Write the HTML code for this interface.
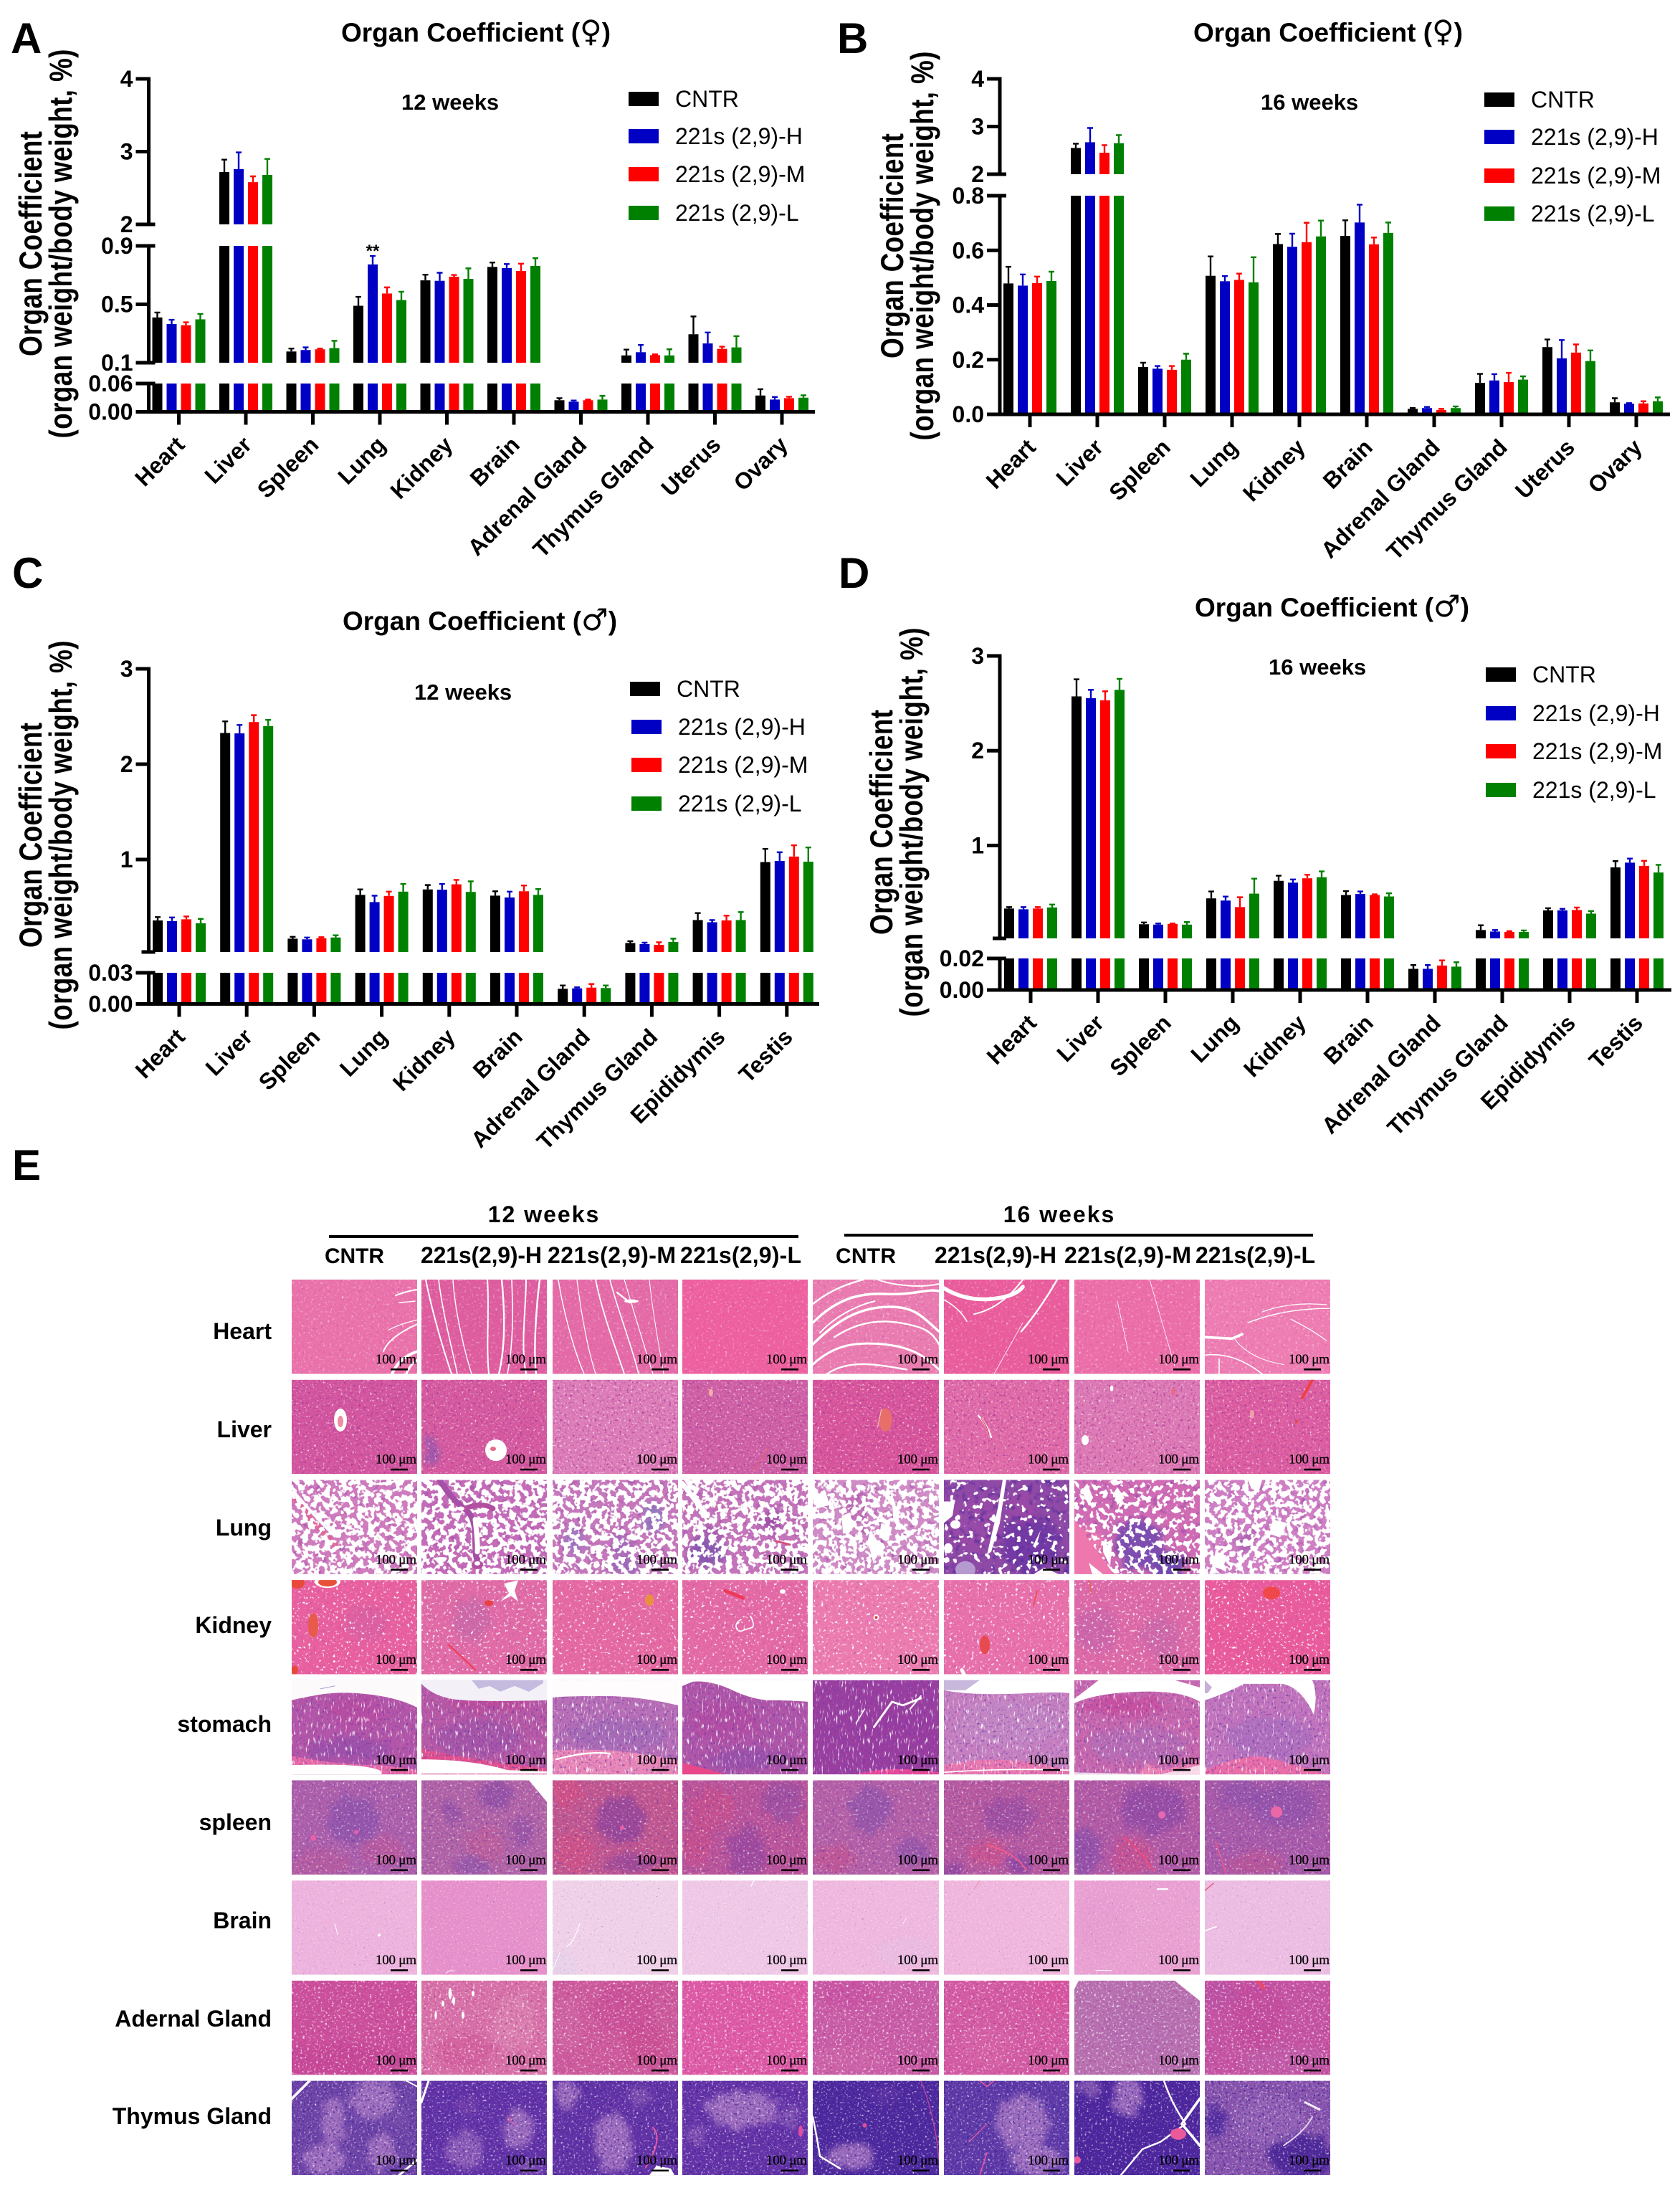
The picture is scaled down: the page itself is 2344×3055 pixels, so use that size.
<!DOCTYPE html>
<html lang="en">
<head>
<meta charset="utf-8">
<title>Organ Coefficient</title>
<style>
html,body{margin:0;padding:0;background:#fff}
svg{display:block}
text{font-family:"Liberation Sans",Arial,sans-serif;fill:#000}
.b{font-weight:bold}
.sym{font-family:"DejaVu Sans",sans-serif;font-weight:normal;font-size:42px}
</style>
</head>
<body>
<svg id="fig" xmlns="http://www.w3.org/2000/svg" width="2344" height="3055" viewBox="0 0 2344 3055">
<defs id="defs"><filter id="soft" x="-60%" y="-60%" width="220%" height="220%" color-interpolation-filters="sRGB"><feTurbulence type="fractalNoise" baseFrequency="0.07" numOctaves="2" seed="5" result="n"/><feDisplacementMap in="SourceGraphic" in2="n" scale="24" xChannelSelector="R" yChannelSelector="G"/><feGaussianBlur stdDeviation="4"/></filter></defs>
<rect width="2344" height="3055" fill="#fff"/>

<text class="b" x="15" y="74" font-size="60">A</text>
<text class="b" x="1168" y="74" font-size="60">B</text>
<text class="b" x="17" y="820" font-size="60">C</text>
<text class="b" x="1170" y="820" font-size="60">D</text>
<text class="b" x="17" y="1646" font-size="60">E</text>

<text class="b" x="476" y="58" font-size="37">Organ Coefficient (<tspan class="sym">♀</tspan>)</text>
<text class="b" x="1665" y="58" font-size="37">Organ Coefficient (<tspan class="sym">♀</tspan>)</text>
<text class="b" x="478" y="879" font-size="37">Organ Coefficient (<tspan class="sym">♂</tspan>)</text>
<text class="b" x="1667" y="860" font-size="37">Organ Coefficient (<tspan class="sym">♂</tspan>)</text>

<text class="b" x="560" y="153" font-size="31">12 weeks</text>
<text class="b" x="1759" y="153" font-size="31">16 weeks</text>
<text class="b" x="578" y="976" font-size="31">12 weeks</text>
<text class="b" x="1770" y="941" font-size="31">16 weeks</text>

<g text-anchor="middle">
<text class="b" transform="translate(58,340) scale(1.2,1) rotate(-90)" font-size="37" textLength="314">Organ Coefficient</text>
<text class="b" transform="translate(100,340) scale(1.2,1) rotate(-90)" font-size="37" textLength="543">(organ weight/body weight, %)</text>
</g>
<g text-anchor="middle">
<text class="b" transform="translate(1260,343) scale(1.2,1) rotate(-90)" font-size="37" textLength="314">Organ Coefficient</text>
<text class="b" transform="translate(1302,343) scale(1.2,1) rotate(-90)" font-size="37" textLength="543">(organ weight/body weight, %)</text>
</g>
<g text-anchor="middle">
<text class="b" transform="translate(58,1165) scale(1.2,1) rotate(-90)" font-size="37" textLength="314">Organ Coefficient</text>
<text class="b" transform="translate(100,1165) scale(1.2,1) rotate(-90)" font-size="37" textLength="543">(organ weight/body weight, %)</text>
</g>
<g text-anchor="middle">
<text class="b" transform="translate(1245,1147) scale(1.2,1) rotate(-90)" font-size="37" textLength="314">Organ Coefficient</text>
<text class="b" transform="translate(1287,1147) scale(1.2,1) rotate(-90)" font-size="37" textLength="543">(organ weight/body weight, %)</text>
</g>

<text class="b" x="520" y="358" font-size="24" text-anchor="middle">**</text>

<g id="chart-a"></g>
<g id="chart-b"></g>
<g id="chart-c"></g>
<g id="chart-d"></g>

<g>
<text class="b" x="759" y="1705" font-size="32" letter-spacing="2" text-anchor="middle">12 weeks</text>
<rect x="459" y="1723" width="655" height="4"/>
<text class="b" x="1478" y="1705" font-size="32" letter-spacing="2" text-anchor="middle">16 weeks</text>
<rect x="1178" y="1721" width="654" height="4"/>
<text class="b" x="453" y="1762" font-size="30" textLength="83">CNTR</text>
<text class="b" x="587" y="1762" font-size="32" textLength="169">221s(2,9)-H</text>
<text class="b" x="764" y="1762" font-size="32" textLength="179">221s(2,9)-M</text>
<text class="b" x="949" y="1762" font-size="32" textLength="169">221s(2,9)-L</text>
<text class="b" x="1166" y="1762" font-size="30" textLength="84">CNTR</text>
<text class="b" x="1304" y="1762" font-size="32" textLength="170">221s(2,9)-H</text>
<text class="b" x="1485" y="1762" font-size="32" textLength="177">221s(2,9)-M</text>
<text class="b" x="1668" y="1762" font-size="32" textLength="167">221s(2,9)-L</text>
</g>
<g text-anchor="end">
<text class="b" x="379" y="1868" font-size="32">Heart</text>
<text class="b" x="379" y="2005" font-size="32">Liver</text>
<text class="b" x="379" y="2142" font-size="32">Lung</text>
<text class="b" x="379" y="2278" font-size="32">Kidney</text>
<text class="b" x="379" y="2416" font-size="32">stomach</text>
<text class="b" x="379" y="2553" font-size="32">spleen</text>
<text class="b" x="379" y="2690" font-size="32">Brain</text>
<text class="b" x="379" y="2827" font-size="32">Adernal Gland</text>
<text class="b" x="379" y="2963" font-size="32">Thymus Gland</text>
</g>
<g id="tiles"></g>
</svg>

<script>
/* ---------- chart data ---------- */
const seriesNames = ['CNTR', '221s (2,9)-H', '221s (2,9)-M', '221s (2,9)-L'];
const seriesColors = ['#000000', '#0000c4', '#ff0000', '#008000'];
const organsFemale = ['Heart', 'Liver', 'Spleen', 'Lung', 'Kidney', 'Brain', 'Adrenal Gland', 'Thymus Gland', 'Uterus', 'Ovary'];
const organsMale = ['Heart', 'Liver', 'Spleen', 'Lung', 'Kidney', 'Brain', 'Adrenal Gland', 'Thymus Gland', 'Epididymis', 'Testis'];

const aTickValues = [0, 0.06, 0.1, 0.5, 0.9, 2, 3, 4];
const aTickLabels = ['0.00', '0.06', '0.1', '0.5', '0.9', '2', '3', '4'];
const bTickValues = [0, 0.2, 0.4, 0.6, 0.8, 2, 3, 4];
const bTickLabels = ['0.0', '0.2', '0.4', '0.6', '0.8', '2', '3', '4'];
const cTickValues = [0, 0.03, 1, 2, 3];
const cTickLabels = ['0.00', '0.03', '1', '2', '3'];
const dTickValues = [0, 0.02, 1, 2, 3];
const dTickLabels = ['0.00', '0.02', '1', '2', '3'];

const aCntr = [0.41, 2.72, 0.177, 0.49, 0.664, 0.756, 0.0246, 0.15, 0.295, 0.0346];
const aCntrErr = [0.034, 0.17, 0.02, 0.061, 0.039, 0.03, 0.0044, 0.04, 0.122, 0.0134];
const aHigh = [0.365, 2.76, 0.187, 0.773, 0.661, 0.748, 0.0215, 0.172, 0.232, 0.026];
const aHighErr = [0.029, 0.23, 0.018, 0.058, 0.055, 0.028, 0.0025, 0.05, 0.075, 0.0055];
const aMid = [0.357, 2.58, 0.192, 0.574, 0.689, 0.728, 0.0246, 0.152, 0.195, 0.029];
const aMidErr = [0.02, 0.08, 0.005, 0.042, 0.012, 0.05, 0.0014, 0.005, 0.015, 0.003];
const aLow = [0.397, 2.68, 0.2, 0.529, 0.674, 0.763, 0.026, 0.15, 0.205, 0.03];
const aLowErr = [0.037, 0.22, 0.05, 0.057, 0.072, 0.053, 0.008, 0.042, 0.077, 0.005];

const bCntr = [0.479, 2.55, 0.173, 0.507, 0.623, 0.653, 0.02, 0.115, 0.246, 0.044];
const bCntrErr = [0.061, 0.09, 0.016, 0.071, 0.037, 0.057, 0.003, 0.033, 0.028, 0.015];
const bHigh = [0.471, 2.67, 0.167, 0.487, 0.613, 0.702, 0.023, 0.124, 0.205, 0.039];
const bHighErr = [0.041, 0.3, 0.01, 0.019, 0.048, 0.065, 0.004, 0.023, 0.067, 0.002];
const bMid = [0.48, 2.45, 0.163, 0.492, 0.63, 0.622, 0.016, 0.118, 0.226, 0.04];
const bMidErr = [0.024, 0.16, 0.014, 0.023, 0.071, 0.025, 0.004, 0.034, 0.03, 0.008];
const bLow = [0.488, 2.65, 0.2, 0.483, 0.651, 0.664, 0.023, 0.127, 0.195, 0.048];
const bLowErr = [0.034, 0.17, 0.022, 0.092, 0.058, 0.038, 0.006, 0.012, 0.039, 0.014];

const cCntr = [0.361, 2.327, 0.17, 0.629, 0.686, 0.621, 0.0146, 0.124, 0.365, 0.973];
const cCntrErr = [0.035, 0.122, 0.019, 0.057, 0.046, 0.046, 0.0032, 0.019, 0.073, 0.138];
const cHigh = [0.354, 2.323, 0.163, 0.553, 0.683, 0.602, 0.015, 0.113, 0.342, 0.985];
const cHighErr = [0.038, 0.088, 0.019, 0.068, 0.061, 0.061, 0.001, 0.015, 0.023, 0.091];
const cMid = [0.373, 2.442, 0.174, 0.618, 0.74, 0.667, 0.0157, 0.105, 0.361, 1.031];
const cMidErr = [0.03, 0.072, 0.011, 0.045, 0.046, 0.061, 0.0035, 0.027, 0.05, 0.118];
const cLow = [0.331, 2.4, 0.182, 0.663, 0.66, 0.629, 0.0153, 0.136, 0.365, 0.977];
const cLowErr = [0.046, 0.065, 0.023, 0.081, 0.111, 0.061, 0.0025, 0.034, 0.084, 0.149];

const dCntr = [0.335, 2.573, 0.169, 0.442, 0.627, 0.477, 0.0134, 0.108, 0.315, 0.769];
const dCntrErr = [0.015, 0.181, 0.019, 0.073, 0.054, 0.042, 0.0024, 0.05, 0.023, 0.066];
const dHigh = [0.327, 2.554, 0.165, 0.419, 0.608, 0.488, 0.0134, 0.092, 0.315, 0.819];
const dHighErr = [0.023, 0.088, 0.012, 0.042, 0.034, 0.027, 0.0024, 0.016, 0.016, 0.043];
const dMid = [0.335, 2.531, 0.173, 0.35, 0.654, 0.477, 0.0155, 0.088, 0.319, 0.785];
const dMidErr = [0.015, 0.096, 0.004, 0.104, 0.038, 0.008, 0.0033, 0.008, 0.027, 0.053];
const dLow = [0.346, 2.642, 0.165, 0.492, 0.665, 0.462, 0.0148, 0.088, 0.281, 0.715];
const dLowErr = [0.031, 0.116, 0.027, 0.158, 0.062, 0.034, 0.0028, 0.016, 0.027, 0.081];

const NS = 'http://www.w3.org/2000/svg';
function mk(parent, tag, attrs) {
  const el = document.createElementNS(NS, tag);
  for (const k in attrs) el.setAttribute(k, attrs[k]);
  parent.appendChild(el);
  return el;
}

/* axis functions: broken axis made of linear segments */
function segY(seg, v) {
  return seg.y0 + (v - seg.lo) / (seg.hi - seg.lo) * (seg.y1 - seg.y0);
}
function makeY(segments) {
  return function (v) {
    for (let i = 0; i < segments.length; i++) {
      const s = segments[i];
      if (v <= s.hi) return segY(s, Math.max(v, s.lo));
    }
    return segY(segments[segments.length - 1], v);
  };
}

function drawChart(cfg) {
  const root = document.getElementById(cfg.id);
  const y = makeY(cfg.segments);
  const baseY = cfg.segments[0].y0;
  const xc = function (i) { return cfg.firstX + i * cfg.stepX; };
  const offsets = [-1.5, -0.5, 0.5, 1.5];

  cfg.series.forEach(function (vals, s) {
    const g = mk(root, 'g', {});
    
    
    vals.forEach(function (v, i) {
      const cx = xc(i) + offsets[s] * 20;
      cfg.segments.forEach(function (seg) {
        if (v > seg.lo) {
          const top = segY(seg, Math.min(v, seg.hi));
          const r = mk(g, 'rect', { x: cx - 7, y: top, width: 14, height: seg.y0 - top, fill: seriesColors[s] });
          
          
        }
      });
      const e = cfg.errors[s][i];
      const ey = y(v + e);
      const eb = mk(g, 'path', { d: 'M' + cx + ' ' + y(v) + 'V' + ey + 'M' + (cx - 4) + ' ' + ey + 'H' + (cx + 4), stroke: seriesColors[s], 'stroke-width': 2.4, fill: 'none' });
      
      
    });
  });

  /* y axis segments, break marks */
  const axis = mk(root, 'g', {});
  
  
  cfg.segments.forEach(function (seg, n) {
    mk(axis, 'rect', { x: cfg.axisX - 2.5, y: seg.y1 - 2.5, width: 5, height: seg.y0 - seg.y1 + 5, fill: '#000' });
    if (n > 0) mk(axis, 'rect', { x: cfg.axisX - 10, y: seg.y0 - 2.5, width: 19, height: 5, fill: '#000' });
    if (n < cfg.segments.length - 1) mk(axis, 'rect', { x: cfg.axisX - 10, y: seg.y1 - 2.5, width: 19, height: 5, fill: '#000' });
  });
  cfg.tickValues.forEach(function (v, i) {
    const ty = y(v);
    mk(axis, 'rect', { x: cfg.axisX - 18, y: ty - 2.5, width: 18, height: 5, fill: '#000' });
    const t = mk(axis, 'text', { x: cfg.axisX - 22, y: ty + 11, 'font-size': 32, 'font-weight': 'bold', 'text-anchor': 'end' });
    
    
    t.textContent = cfg.tickLabels[i];
  });

  /* x axis */
  const xa = mk(root, 'g', {});
  
  
  mk(xa, 'rect', { x: cfg.axisX - 18, y: baseY - 2.5, width: cfg.axisEnd - cfg.axisX + 18, height: 5, fill: '#000' });
  cfg.organs.forEach(function (name, i) {
    mk(xa, 'rect', { x: xc(i) - 2.5, y: baseY, width: 5, height: 18, fill: '#000' });
    const t = mk(xa, 'text', { transform: 'translate(' + (xc(i) + 10) + ',' + (baseY + 48) + ') rotate(-45)', 'font-size': 32, 'font-weight': 'bold', 'text-anchor': 'end' });
    
    
    t.textContent = name;
  });

  /* legend */
  const lg = mk(root, 'g', {});
  
  
  seriesNames.forEach(function (name, s) {
    const ly = cfg.legendY[s];
    const sw = mk(lg, 'rect', { x: cfg.legendX[s], y: ly - 10, width: 42, height: 20, fill: seriesColors[s] });
    
    
    const t = mk(lg, 'text', { x: cfg.legendX[s] + 65, y: ly + 11, 'font-size': 32 });
    
    
    t.textContent = name;
  });
}

drawChart({ id: 'chart-a', organs: organsFemale, firstX: 249.5, stepX: 93.5, axisX: 207.5, axisEnd: 1137,
  segments: [{ lo: 0, hi: 0.06, y0: 574.5, y1: 535 }, { lo: 0.1, hi: 0.9, y0: 506, y1: 343 }, { lo: 2, hi: 4, y0: 313, y1: 110 }],
  tickValues: aTickValues, tickLabels: aTickLabels,
  series: [aCntr, aHigh, aMid, aLow], errors: [aCntrErr, aHighErr, aMidErr, aLowErr],
  legendX: [877, 877, 877, 877], legendY: [138, 190, 243, 297] });
drawChart({ id: 'chart-b', organs: organsFemale, firstX: 1437, stepX: 94, axisX: 1395, axisEnd: 2330,
  segments: [{ lo: 0, hi: 0.8, y0: 578, y1: 273 }, { lo: 2, hi: 4, y0: 243, y1: 110 }],
  tickValues: bTickValues, tickLabels: bTickLabels,
  series: [bCntr, bHigh, bMid, bLow], errors: [bCntrErr, bHighErr, bMidErr, bLowErr],
  legendX: [2071, 2071, 2071, 2071], legendY: [139, 191, 245, 298] });
drawChart({ id: 'chart-c', organs: organsMale, firstX: 250, stepX: 94.2, axisX: 207.5, axisEnd: 1143,
  segments: [{ lo: 0, hi: 0.03, y0: 1400.5, y1: 1357 }, { lo: 0.03, hi: 3, y0: 1328, y1: 933 }],
  tickValues: cTickValues, tickLabels: cTickLabels,
  series: [cCntr, cHigh, cMid, cLow], errors: [cCntrErr, cHighErr, cMidErr, cLowErr],
  legendX: [879, 881, 881, 881], legendY: [961, 1014, 1067, 1121] });
drawChart({ id: 'chart-d', organs: organsMale, firstX: 1438, stepX: 94, axisX: 1395, axisEnd: 2332,
  segments: [{ lo: 0, hi: 0.02, y0: 1381, y1: 1337 }, { lo: 0.02, hi: 3, y0: 1309, y1: 915 }],
  tickValues: dTickValues, tickLabels: dTickLabels,
  series: [dCntr, dHigh, dMid, dLow], errors: [dCntrErr, dHighErr, dMidErr, dLowErr],
  legendX: [2073, 2073, 2073, 2073], legendY: [941, 995, 1048, 1102] });

/* ---------- histology tiles ---------- */
let K = 1;
function E(x, y, rx, ry, c, o) { return '<ellipse cx="' + x + '" cy="' + y + '" rx="' + rx + '" ry="' + ry + '" fill="' + c + '" opacity="' + ((o || 1) * K) + '" filter="url(#soft)"/>'; }
function S(x, y, rx, ry, c) { return '<ellipse cx="' + x + '" cy="' + y + '" rx="' + rx + '" ry="' + ry + '" fill="' + c + '"/>'; }
function L(d, w, c) { return '<path d="' + d + '" fill="none" stroke="' + (c || '#fff') + '" stroke-width="' + (w || 1.6) + '" stroke-linecap="round"/>'; }
function P(d, c, o) { return '<path d="' + d + '" fill="' + (c || '#fff') + '" opacity="' + (o || 1) + '"/>'; }

const colX = [[407, 175], [588, 175], [771, 175], [952, 175], [1134, 176], [1317, 175], [1499, 175], [1681, 175]];
const colNames = ['12w-cntr', '12w-high', '12w-mid', '12w-low', '16w-cntr', '16w-high', '16w-mid', '16w-low'];
const rowNames = ['heart', 'liver', 'lung', 'kidney', 'stomach', 'spleen', 'brain', 'adrenal-gland', 'thymus-gland'];

const texKinds = {
  heart: { f: 0.3, fd: 0.27, k: 2, off: -1.22, dk: 1.6, doff: -1.0, dc: '#b0408c' },
  liver: { f: 0.32, fd: 0.29, k: 3.4, off: -2.1, dk: 3.2, doff: -1.8, dc: '#a83a98' },
  lung: { f: 0.13, fd: 0.12, k: 18, off: -8.4, dk: 2, doff: -1.1, dc: '#9a4aa6' },
  lungD: { f: 0.12, fd: 0.12, k: 18, off: -11, dk: 3, doff: -1.6, dc: '#5a2f9c' },
  lungM: { f: 0.13, fd: 0.12, k: 18, off: -9.6, dk: 2, doff: -1.1, dc: '#8a3fa6' },
  kidney: { f: 0.26, fd: 0.23, k: 6, off: -3.75, dk: 2, doff: -1.2, dc: '#b84a9c' },
  stomach: { f: '0.4 0.1', fd: 0.3, k: 5, off: -3.1, dk: 3, doff: -1.7, dc: '#6a3aa8' },
  spleen: { f: 0.32, fd: 0.29, k: 2.8, off: -1.7, dk: 2.6, doff: -1.5, dc: '#6a3aa8' },
  brain: { f: 0.42, fd: 0.38, k: 1.8, off: -1.05, dk: 3.6, doff: -2.5, dc: '#8a6ab8' },
  adrenal: { f: 0.32, fd: 0.29, k: 3.4, off: -2, dk: 2.6, doff: -1.5, dc: '#a83a8c' },
  thymus: { f: 0.34, fd: 0.31, k: 3, off: -1.8, dk: 3.2, doff: -1.75, dc: '#3f2390' }
};

const purple = '#6230a4', lightT = '#a876c2', blue = '#6b45ae';

const tileSpecs = [
 /* heart */
 (K = 1, [
  ['#ea72ab', 'heart', '', L('M145 22Q160 16 175 14',2)+L('M150 32L172 30',1.5)+L('M135 70Q150 62 175 56',1.2)+L('M128 100Q135 80 175 62',2)+L('M140 131Q150 108 175 100',4)+L('M160 131Q165 118 175 112',3)],
  ['#de5d9f', 'heart', '', L('M6 0C14 40 28 90 42 131',2)+L('M24 0C30 50 44 100 50 131',1.6)+L('M44 0C46 40 60 100 70 131',1.4)+L('M92 0C95 40 90 90 94 131',2)+L('M112 0C116 40 118 90 108 131',2.4)+L('M126 0C128 50 128 90 120 131',1.6)+L('M146 0C146 40 138 90 146 131',2)+L('M165 0C160 40 156 100 160 131',2.4)],
  ['#e46ba7', 'heart', '', L('M8 0C14 40 30 100 44 131',1.4)+L('M34 0C40 50 50 100 60 131',1.2)+L('M60 0C70 50 90 100 100 131',1.8)+L('M80 0C90 40 110 90 120 131',1.6)+L('M100 0C112 40 130 100 140 131',1.2)+L('M135 0C140 50 150 100 155 131',1)+S(110,30,10,2.5,'#fff')+L('M90 18L108 32',2.4)],
  ['#ee609f', 'heart', '', ''],
  ['#e97bb0', 'heart', '', L('M0 60C30 30 60 18 100 20S160 12 175 16',3.4)+L('M0 34C20 18 40 8 70 0',2.4)+L('M0 90C30 60 60 40 100 38S150 50 175 72',3.4)+L('M30 80C60 60 90 55 120 60S165 70 175 90',2.4)+L('M0 118C30 90 60 86 100 90S160 110 175 125',3)+L('M20 131C50 110 90 118 130 125',2.4)+L('M90 0C110 8 150 12 175 6',2)+L('M10 74C30 52 60 36 86 30',2)],
  ['#ea5d9c', 'heart', '', L('M0 12Q30 30 65 27T110 10',5.5)+L('M42 48Q80 40 110 0',2)+L('M0 28Q22 40 32 58',1.6)+L('M108 72Q135 40 158 0',2.4)+L('M70 131L110 60',0.8)],
  ['#ec6ea9', 'heart', '', L('M105 0L140 120',0.8)+L('M60 30L75 100',0.8)],
  ['#ee7db3', 'heart', '', L('M0 80L38 82L52 76',3.6)+L('M60 60Q110 40 175 40',1.4)+L('M80 45Q120 30 170 35',1.2)+L('M0 105Q40 100 80 131',1.6)+L('M20 110V131',1.6)+L('M120 55Q150 70 170 85',1.2)+L('M40 80Q60 110 110 118',1)],
 ]),
 /* liver */
 (K = 1, [
  ['#d3569f', 'liver', '', S(68,56,9,16,'#fff')+S(68,58,4,8,'#ef8ca4')],
  ['#d65a9f', 'liver', E(14,100,8,20,'#8a5ab0',.7), S(104,98,15,15,'#fff')+S(100,96,4,3,'#e86a8a')],
  ['#dd7db8', 'liver', '', ''],
  ['#cf60a5', 'liver', '', S(40,18,3,5,'#f2b0a8')+L('M100 125L120 95',1.2,'#e8606a')],
  ['#d9559b', 'liver', '', S(101,56,9,16,'#e86e6a')+L('M95 42L90 66',1,'#f4d0c0')],
  ['#e06ba8', 'liver', '', L('M48 50Q60 62 66 80',2.4)+L('M52 54Q60 64 63 76',1.2,'#e0505a')],
  ['#dd7ab5', 'liver', '', S(15,84,5,7,'#fff')+S(52,12,2.4,4,'#fff')+S(138,16,3,5,'#e86a8a')],
  ['#dd5ea1', 'liver', '', L('M150 0L136 25',4,'#f0403e')+S(66,48,3,6,'#eea0a8')+S(128,58,2,3,'#e84a4a')],
 ]),
 /* lung */
 (K = 1, [
  ['#cf7cbe', 'lung', E(85,25,20,10,'#d080c0',.5)+L('M0 20Q30 60 60 90',8,'#e06a9a'), L('M4 18Q30 48 60 78',4)],
  ['#c46cb8', 'lung', '', L('M25 0Q45 30 60 40T75 80T78 110',8,'#a64fa6')+L('M60 40Q85 30 100 40',7,'#b0509f')+L('M75 55Q79 90 78 100',7)+S(55,40,5,3,'#fff')+S(78,118,8,6,'#b0509f')+S(78,116,4,3,'#fff')],
  ['#c678bc', 'lung', E(140,50,14,22,'#8f7ac0',.9)+E(30,85,14,20,'#9f78c4',.9)+E(100,120,24,14,'#9a68b8',.9)+E(95,90,14,14,'#9a68b8',.8), ''],
  ['#c474ba', 'lung', E(125,55,14,18,'#a050a8')+E(35,100,26,22,'#8a58b0')+E(40,75,14,14,'#a860b0'), L('M0 5L35 50',7)+L('M130 85L150 90',3,'#d0507f')],
  ['#d08cc6', 'lung', E(60,40,20,25,'#b860b0',.6), P('M40 50L52 45L55 70L42 75Z')+P('M95 60L110 66L105 85L92 80Z')+P('M80 70L96 95L84 115L76 85Z')+P('M0 20L18 18L24 35L5 40Z')+P('M110 30L122 45L112 60Z')],
  ['#8e4aa6', 'lungD', E(40,60,40,40,'#a04aa8',.5)+E(120,90,40,40,purple,.6)+E(110,40,20,25,'#a64aa6',.5), P('M75 40L82 0L87 0L78 60L66 100L60 104Z')+P('M0 30L15 30L12 50L0 60Z')+S(16,62,7,6,'#fff')+S(6,95,6,7,'#fff')+P('M130 80L135 70L128 95L124 92Z')+P('M125 105L120 125L115 118Z')+P('M125 131L140 122L160 131Z')+S(30,125,14,12,'#b59ad0')],
  ['#d06cb4', 'lungM', E(90,90,34,34,'#7d4db0')+E(130,120,26,20,'#6f4ab0')+E(15,115,30,50,'#ea7ab0'), P('M0 55L55 131L0 131Z','#ee77ae')+P('M18 5L26 25L20 35L10 15Z')+P('M60 10L70 25L60 35L55 18Z')+P('M40 85L52 95L50 120L40 100Z')+P('M20 115L40 131H25Z')],
  ['#cf80c4', 'lung', E(55,85,14,14,'#a860b0'), P('M60 0H80L75 18L65 12Z')+P('M95 55L115 60L105 80L90 75Z')+P('M15 100L30 105L25 125L10 120Z')],
 ]),
 /* kidney */
 (K = 0.7, [
  ['#e8609f', 'kidney', E(105,60,30,25,'#b864ac',.35), S(8,4,10,8,'#ea4a3a')+S(50,2,18,9,'#fff')+S(50,3,13,6,'#e8503a')+S(30,63,7,17,'#e85a4a')+S(4,125,5,6,'#e84a3a')],
  ['#e06ba6', 'kidney', E(70,55,26,30,'#a066b0',.4), P('M110 30L122 18L115 5L124 3L135 0L130 15L135 30L125 22Z')+S(94,32,6,4,'#e8403e')+L('M38 90Q60 110 75 125',2.4,'#f0405a')],
  ['#e569a3', 'kidney', '', S(135,28,6,8,'#e89040')],
  ['#e46aa6', 'kidney', '', L('M60 15L85 25',5,'#ee3a5a')+S(140,16,4,3,'#fff')+L('M82 55C70 60 75 75 85 70S105 70 95 50',1.6)],
  ['#ec7cb0', 'kidney', '', S(88,52,4,4,'#fff')+S(88,52,2,2,'#e83a3a')],
  ['#e870ab', 'kidney', '', S(57,90,7,13,'#e84a50')+L('M130 15L125 35',2,'#ee5050')+L('M25 125L28 131',5)],
  ['#dd6aa8', 'kidney', E(30,70,30,30,'#b060ac',.5)+E(120,80,26,30,'#a864ac',.4), L('M20 0L25 20',1.4,'#e86040')],
  ['#e95b9c', 'kidney', '', S(93,18,12,9,'#f0484a')],
 ]),
 /* stomach */
 (K = 0.55, [
  ['#b456a8', 'stomach', E(90,45,40,20,'#c0409a',.6)+E(80,95,60,16,blue,.5)+P('M0 105Q60 118 125 118L175 125V131H0Z','#e86aa8'), P('M0 0H175V38Q150 25 110 20T40 20T0 28Z','#fdfafc')+P('M0 118Q70 116 100 120T125 131H0Z','#fff')+L('M40 12L60 8',1,'#a9a0cc')],
  ['#b85aa6', 'stomach', E(95,30,60,12,'#c23a90',.8)+E(80,80,60,25,blue,.4)+P('M0 95Q60 110 175 122V131H0Z','#e0508f'), P('M0 0H175V28Q100 30 60 28T0 5Z','#f4f0f8')+P('M70 0L80 12L95 8L110 16L130 8L150 16L170 4V0Z','#b9aed8',.8)+P('M0 110Q70 110 120 125L175 127V130H0Z','#fff')],
  ['#b86fb6', 'stomach', E(90,75,70,22,'#8a68b8',.6)+P('M0 98Q90 92 175 112V131H0Z','#e987b8'), P('M0 0H175V35Q120 22 70 22T0 24Z','#fefcfd')+L('M5 110Q50 98 80 102',2.4)],
  ['#b056a8', 'stomach', E(60,60,50,26,'#b83a98',.5)+E(90,110,60,14,blue,.5), P('M0 0H175V30Q150 28 125 28T70 14T15 2L0 8Z','#fff')+P('M0 115Q30 122 60 131H0Z','#e8488a')],
  ['#9a3fa0', 'stomach', E(120,80,50,40,'#9a3aa0',.6)+P('M60 131Q100 118 175 128V131Z','#e8489a'), L('M60 60L72 40',1.6)+L('M85 65L110 30L125 35L150 25',2.8)+L('M135 40L150 22',2)],
  ['#c680c0', 'stomach', E(90,60,70,30,'#c09ad0',.5)+P('M0 118Q80 100 175 125V131H0Z','#ea78b0'), P('M0 14Q40 22 120 18T175 26V0H0Z','#fff')+P('M0 0H50L30 14H0Z','#c8b8dc')+L('M0 128Q90 122 175 125',1.6)],
  ['#c868ae', 'stomach', E(70,35,60,14,'#c8308c',.7)+E(90,90,70,24,'#9a78c0',.6)+P('M90 131L100 115L125 125L175 110V131Z','#eb80b4'), P('M0 32Q30 18 90 16T175 30V10L140 0H34L0 26Z','#fff')+P('M0 128L120 131L175 118V131H0Z','#fff',0.7)],
  ['#c274bc', 'stomach', E(90,80,60,30,'#8e6ac0',.6)+P('M0 125Q60 100 90 108T175 131H0Z','#ea6ea8'), P('M0 28Q30 18 55 5H108Q135 10 152 48Q158 20 150 0H0Z','#fff')+P('M0 0L10 10L4 18H0Z','#c8b0d8')],
 ]),
 /* spleen */
 (K = 0.65, [
  ['#ad5faa', 'spleen', E(85,55,36,34,blue,.55)+E(40,115,40,20,'#d8507f',.3)+E(130,100,30,20,'#d0508a',.5), S(30,80,4,4,'#e860a8')+S(90,72,3,3,'#e860a8')],
  ['#b263a6', 'spleen', E(105,20,22,22,purple,.5)+E(40,45,14,14,purple,.45)+E(90,90,26,26,'#cc5a90',.6)+E(140,70,14,22,purple,.4)+E(70,120,24,14,blue,.5), P('M150 0H175V30Z','#fff')],
  ['#c2568f', 'spleen', E(95,55,34,34,purple,.6)+E(20,15,22,22,'#e84a78',.6)+E(110,115,36,14,purple,.5)+E(30,100,26,26,'#e84a78',.5), S(97,66,3,3,'#e860a8')],
  ['#bb5499', 'spleen', E(90,100,26,36,purple,.45)+E(40,40,34,30,'#d64a80',.6)+E(140,30,30,28,blue,.45)+E(20,90,20,30,'#d64a80',.6), ''],
  ['#b560a6', 'spleen', E(80,40,30,34,blue,.55)+E(30,110,30,20,'#d04a80',.6)+E(140,100,26,20,blue,.5), ''],
  ['#b85a9f', 'spleen', E(90,50,36,26,purple,.4)+E(105,120,20,16,purple,.6)+E(15,125,16,10,purple,.6)+E(60,100,26,18,'#e04a7a',.6), L('M60 90Q100 100 115 125',2,'#ee5a88')],
  ['#b35aa4', 'spleen', E(110,40,46,34,purple,.5)+E(15,100,22,34,blue,.6)+E(80,105,28,25,'#e0487c',.6), S(122,48,5,5,'#e36ab0')+L('M70 80Q95 100 110 125',2.5,'#e84a80')],
  ['#a95aa8', 'spleen', E(110,35,46,30,blue,.4)+E(70,115,40,18,'#d8507f',.5)+E(50,20,30,20,blue,.4), S(100,44,8,8,'#ea68a6')+L('M15 85L30 131',1.6,'#ee5a88')],
 ]),
 /* brain */
 (K = 0.6, [
  ['#edb2dd', 'brain', '', L('M60 60L64 75',1)+S(122,76,2,2,'#fff')],
  ['#e68fca', 'brain', '', L('M35 128Q40 124 46 126',1)],
  ['#efd0e8', 'brain', E(15,120,20,20,'#dfd0ea',.7), L('M38 60Q30 85 20 92',1.2)+L('M0 125L10 100',.8)],
  ['#efc7e6', 'brain', '', L('M100 0L96 8',1.2)],
  ['#efb7de', 'brain', E(130,100,40,20,'#e4bfe4',.7), L('M125 60L130 52',.8)],
  ['#f0b5dd', 'brain', '', L('M50 0L42 12',1,'#e8909f')],
  ['#e99fd1', 'brain', E(40,60,40,40,'#e394d0',.4), L('M116 12H130',2.2)+L('M30 125H52',1)],
  ['#ecbce2', 'brain', '', L('M0 14L12 4',1.6,'#e8607a')+L('M0 70L16 64',1.6)],
 ]),
 /* adrenal */
 (K = 0.45, [
  ['#cc4f9c', 'adrenal', E(60,110,90,22,'#c03a90',.8), ''],
  ['#d870a8', 'adrenal', E(60,100,40,26,'#cc4a90',.8)+E(130,60,30,40,'#e0a0c0',.6), S(40,18,2.4,8,'#fff')+S(45,28,2,6,'#fff')+S(20,48,1.6,6,'#fff')+S(58,48,2,5,'#fff')+S(72,18,2,4,'#fff')+S(30,32,2,4,'#fff')],
  ['#cd5a9c', 'adrenal', E(100,40,40,36,'#c84090',.7)+E(130,90,30,30,'#c83a80',.6)+E(20,60,20,40,'#d880b4',.5), ''],
  ['#de5aa6', 'adrenal', '', ''],
  ['#c95ca6', 'adrenal', E(50,20,40,20,'#c8409c',.6)+E(40,110,60,20,'#d878b0',.5), ''],
  ['#d35aa3', 'adrenal', E(150,20,26,26,'#e04a98',.7)+E(60,90,40,30,'#dc78b0',.5), ''],
  ['#b770b0', 'adrenal', E(90,70,50,40,'#b06cb4',.6), P('M140 0L175 28V0Z','#fff')+P('M0 0H6L0 12Z','#fff')],
  ['#c553a3', 'adrenal', E(75,50,34,50,'#c04096',.8)+E(110,110,60,20,'#b870b4',.6)+E(20,20,24,20,'#a84aa6',.6), L('M74 0L82 10',5,'#ea4a6a')],
 ]),
 /* thymus */
 (K = 0.85, [
  ['#6f44a8', 'thymus', E(115,25,32,28,lightT)+E(58,60,16,36,lightT)+E(45,110,30,22,lightT)+E(125,100,20,26,lightT)+E(150,50,14,14,'#7c50ac'), L('M0 25L25 0',3.5)+L('M150 131L175 110',3)+L('M160 0L175 8',2)],
  ['#6332a8', 'thymus', E(135,65,20,28,lightT)+E(60,95,26,26,'#9a68bc',.9)+E(150,120,14,12,'#a070c0',.6)+E(65,35,14,14,'#8a50b0',.5), L('M10 0L0 30',3)+L('M120 50L128 60',1.4,'#e0509a')],
  ['#6232a6', 'thymus', E(85,85,26,42,lightT)+E(20,20,16,18,lightT)+E(120,20,16,14,'#a070c0',.5), L('M140 65Q155 80 130 120',2,'#e85aa0')+P('M135 131L145 118L165 122L170 131Z')],
  ['#6533a8', 'thymus', E(85,40,50,26,lightT)+E(20,75,14,14,'#a070c0',.6)+E(150,50,14,14,'#a070c0',.6), S(165,70,3,8,'#e050a0')],
  ['#4d289e', 'thymus', E(50,105,32,18,lightT)+E(100,20,20,12,'#6a3aa8',.6), L('M0 50Q6 80 10 105L38 122',2.4)+S(72,62,3,3,'#e0509a')+L('M150 0Q170 50 175 110',1.2,'#c848a0')],
  ['#5f3aa8', 'thymus', E(110,60,36,40,lightT)+E(130,110,36,22,lightT)+E(30,115,14,12,'#5f3aa8'), L('M50 0L60 8L70 0',1.6,'#e85aa0')+L('M50 131L60 100',1.6,'#e85aa0')+L('M35 85L60 60',1.2,'#e85aa0')],
  ['#4e269e', 'thymus', E(75,22,22,26,lightT)+E(20,10,20,10,'#a878c0',.7), L('M125 0Q135 30 155 60L120 85L95 95L65 131',2.4)+L('M175 25L150 60L175 90',3.6)+S(145,74,11,8,'#ea5a9a')+S(4,110,5,5,'#e85aa0')],
  ['#8a55ae', 'thymus', E(135,105,46,30,'#462396')+E(15,55,14,26,'#4e289e')+E(90,55,50,36,'#a070c0',.5), L('M110 90Q140 70 150 50',2,'#e4d0ec')+L('M140 30L160 40',3,'#f4ecf8')],
 ])
];

const defs = document.getElementById('defs');
const tilesRoot = document.getElementById('tiles');
let seedN = 3;

function noiseFilter(id, f, seed, color, k, off) {
  const fl = mk(defs, 'filter', { id: id, x: 0, y: 0, width: 1, height: 1, 'color-interpolation-filters': 'sRGB' });
  mk(fl, 'feTurbulence', { type: 'fractalNoise', baseFrequency: f, numOctaves: 2, seed: seed });
  const hex = color.replace('#', '');
  const r = parseInt(hex.substr(0, 2), 16) / 255, g = parseInt(hex.substr(2, 2), 16) / 255, b = parseInt(hex.substr(4, 2), 16) / 255;
  mk(fl, 'feColorMatrix', { type: 'matrix', values: '0 0 0 0 ' + r + ' 0 0 0 0 ' + g + ' 0 0 0 0 ' + b + ' ' + k + ' 0 0 0 ' + off });
}

tileSpecs.forEach(function (row, r) {
  const rowTop = 1785 + r * 139.7;
  row.forEach(function (spec, c) {
    const tex = texKinds[spec[1]];
    const w = colX[c][1], h = 131.5;
    const tile = mk(tilesRoot, 'svg', { x: colX[c][0], y: rowTop, width: w, height: h, viewBox: '0 0 175 131', preserveAspectRatio: 'none' });
    
    
    const id1 = 'tl' + r + '_' + c, id2 = 'td' + r + '_' + c;
    noiseFilter(id1, tex.f, seedN++, '#ffffff', tex.k, tex.off);
    noiseFilter(id2, tex.fd, seedN++, tex.dc, tex.dk, tex.doff);
    mk(tile, 'rect', { width: 175, height: 131, fill: spec[0] });
    const under = mk(tile, 'g', {});
    under.innerHTML = spec[2];
    mk(tile, 'rect', { width: 175, height: 131, fill: '#000', filter: 'url(#' + id2 + ')' });
    mk(tile, 'rect', { width: 175, height: 131, fill: '#000', filter: 'url(#' + id1 + ')' });
    const over = mk(tile, 'g', {});
    over.innerHTML = spec[3];

    const lab = mk(tilesRoot, 'text', { x: colX[c][0] + w - 1, y: rowTop + 117, 'font-size': 19, 'text-anchor': 'end', style: 'font-family:"Liberation Serif",serif;stroke:#000;stroke-width:.25', textLength: 57 });
    
    
    lab.textContent = '100 μm';
    const bar = mk(tilesRoot, 'rect', { x: colX[c][0] + w - 37, y: rowTop + 124, width: 24, height: 2.6, fill: '#000' });
    
    
  });
});
</script>
</body>
</html>
